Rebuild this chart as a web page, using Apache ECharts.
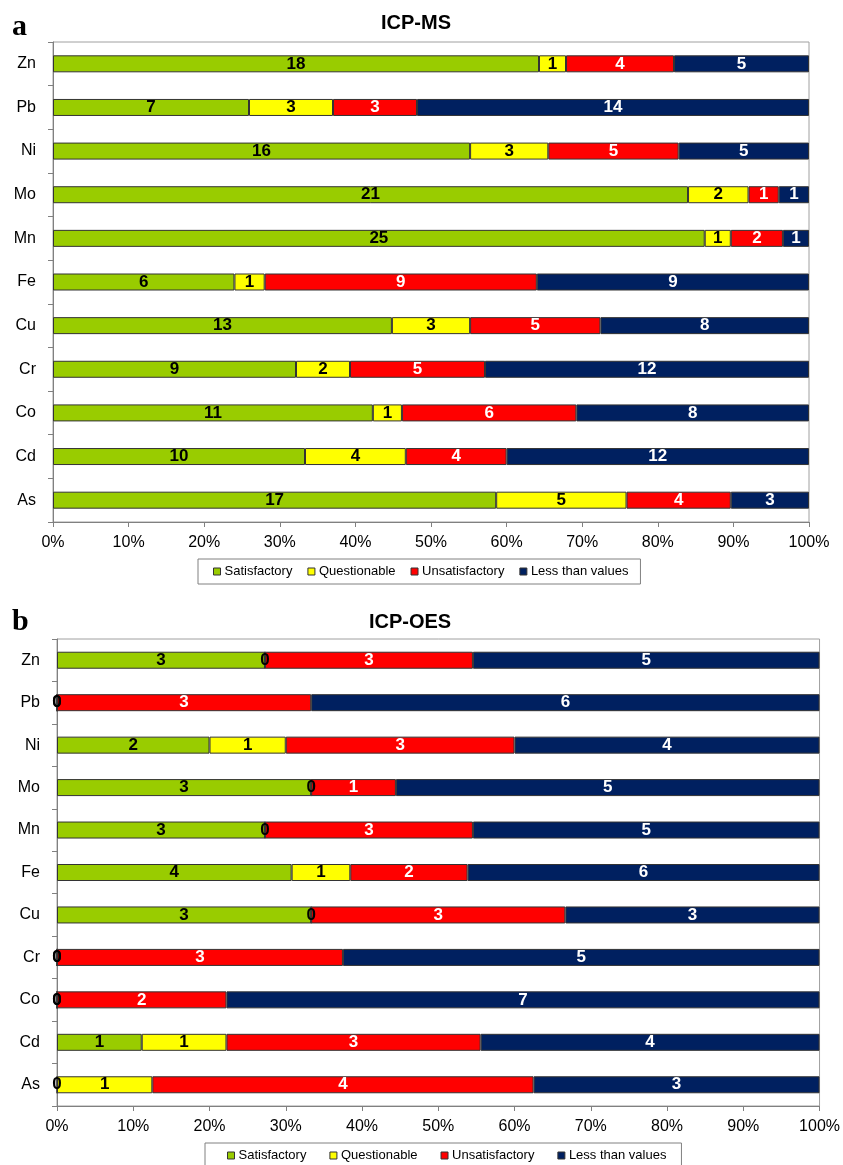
<!DOCTYPE html>
<html>
<head>
<meta charset="utf-8">
<script src="https://cdn.jsdelivr.net/npm/echarts@6/dist/echarts.min.js"></script>
<style>
  html, body { margin: 0; padding: 0; background: #fff; }
  #chart { width: 843px; height: 1165px; }
</style>
</head>
<body>
<div id="chart"></div>
<script>
// Elements, listed top to bottom
const categories = ['Zn', 'Pb', 'Ni', 'Mo', 'Mn', 'Fe', 'Cu', 'Cr', 'Co', 'Cd', 'As'];
const groupNames = ['Satisfactory', 'Questionable', 'Unsatisfactory', 'Less than values'];

// (a) ICP-MS result counts per element
const msSatisfactory   = [18, 7, 16, 21, 25, 6, 13, 9, 11, 10, 17];
const msQuestionable   = [1, 3, 3, 2, 1, 1, 3, 2, 1, 4, 5];
const msUnsatisfactory = [4, 3, 5, 1, 2, 9, 5, 5, 6, 4, 4];
const msLessThan       = [5, 14, 5, 1, 1, 9, 8, 12, 8, 12, 3];

// (b) ICP-OES result counts per element
const oesSatisfactory   = [3, 0, 2, 3, 3, 4, 3, 0, 0, 1, 0];
const oesQuestionable   = [0, 0, 1, 0, 0, 1, 0, 0, 0, 1, 1];
const oesUnsatisfactory = [3, 3, 3, 1, 3, 2, 3, 3, 2, 3, 4];
const oesLessThan       = [5, 6, 4, 5, 5, 6, 3, 5, 7, 4, 3];

const colors = ['#99CC00', '#FFFF00', '#FF0000', '#002060'];
const labelColors = ['#000', '#000', '#fff', '#fff'];
const FONT = '"Liberation Sans", Arial, sans-serif';

function rowTotals(groups) {
  return categories.map((_, i) => groups.reduce((s, g) => s + g[i], 0));
}

function buildSeries(groups, stackId, axisIndex) {
  const totals = rowTotals(groups);
  return groups.map((counts, k) => ({
    name: groupNames[k],
    type: 'bar',
    stack: stackId,
    xAxisIndex: axisIndex,
    yAxisIndex: axisIndex,
    barWidth: 17,
    data: counts.map((c, i) => c / totals[i] * 100),
    itemStyle: { color: colors[k], borderColor: '#333', borderWidth: 1 },
    label: {
      show: true,
      position: 'inside',
      color: labelColors[k],
      fontFamily: FONT,
      fontWeight: 'bold',
      fontSize: 17,
      formatter: p => String(counts[p.dataIndex])
    },
    emphasis: { disabled: true }
  }));
}

function xAxisFor(gridIndex) {
  return {
    gridIndex: gridIndex,
    type: 'value',
    min: 0,
    max: 100,
    interval: 10,
    axisLine: { show: true, lineStyle: { color: '#808080', width: 1 } },
    axisTick: { show: true, length: 5, lineStyle: { color: '#808080' } },
    splitLine: { show: false },
    axisLabel: { color: '#000', fontFamily: FONT, fontSize: 16, margin: 13, formatter: '{value}%' }
  };
}

function yAxisFor(gridIndex) {
  return {
    gridIndex: gridIndex,
    type: 'category',
    data: categories,
    inverse: true,
    axisLine: { show: true, lineStyle: { color: '#808080', width: 1 } },
    axisTick: { show: true, length: 5, alignWithLabel: false, lineStyle: { color: '#808080' } },
    axisLabel: { color: '#000', fontFamily: FONT, fontSize: 16, margin: 17 }
  };
}

function legendFor(left, top, gap, padding) {
  return {
    left: left,
    top: top,
    orient: 'horizontal',
    data: groupNames.map((n, k) => ({
      name: n,
      itemStyle: { color: colors[k], borderColor: '#333', borderWidth: 1 }
    })),
    icon: 'rect',
    itemWidth: 7,
    itemHeight: 7,
    itemGap: gap,
    padding: padding,
    borderColor: '#808080',
    borderWidth: 1,
    selectedMode: false,
    textStyle: { color: '#000', fontFamily: FONT, fontSize: 13, padding: [0, 0, 0, -1] }
  };
}

const chart = echarts.init(document.getElementById('chart'), null, { renderer: 'canvas' });

chart.setOption({
  animation: false,
  backgroundColor: '#fff',
  graphic: [
    { type: 'text', style: { x: 12, y: 27, text: 'a', font: 'bold 30px "Liberation Serif", "Times New Roman", serif', fill: '#000', textVerticalAlign: 'middle' } },
    { type: 'text', style: { x: 416, y: 23, text: 'ICP-MS', font: 'bold 20px ' + FONT, fill: '#000', textAlign: 'center', textVerticalAlign: 'middle' } },
    { type: 'text', style: { x: 12, y: 622, text: 'b', font: 'bold 30px "Liberation Serif", "Times New Roman", serif', fill: '#000', textVerticalAlign: 'middle' } },
    { type: 'text', style: { x: 410, y: 622, text: 'ICP-OES', font: 'bold 20px ' + FONT, fill: '#000', textAlign: 'center', textVerticalAlign: 'middle' } }
  ],
  legend: [
    legendFor(198, 559, 15, [6, 12, 6, 15]),
    legendFor(205, 1143, 23, [6, 15, 6, 22])
  ],
  grid: [
    { left: 53, top: 42, width: 756, height: 480, show: true, borderColor: '#a0a0a0', borderWidth: 1, containLabel: false },
    { left: 57, top: 639, width: 764, height: 467, show: true, borderColor: '#a0a0a0', borderWidth: 1, containLabel: false }
  ],
  xAxis: [xAxisFor(0), xAxisFor(1)],
  yAxis: [yAxisFor(0), yAxisFor(1)],
  series: [
    ...buildSeries([msSatisfactory, msQuestionable, msUnsatisfactory, msLessThan], 'ms', 0),
    ...buildSeries([oesSatisfactory, oesQuestionable, oesUnsatisfactory, oesLessThan], 'oes', 1)
  ]
});
</script>
</body>
</html>
